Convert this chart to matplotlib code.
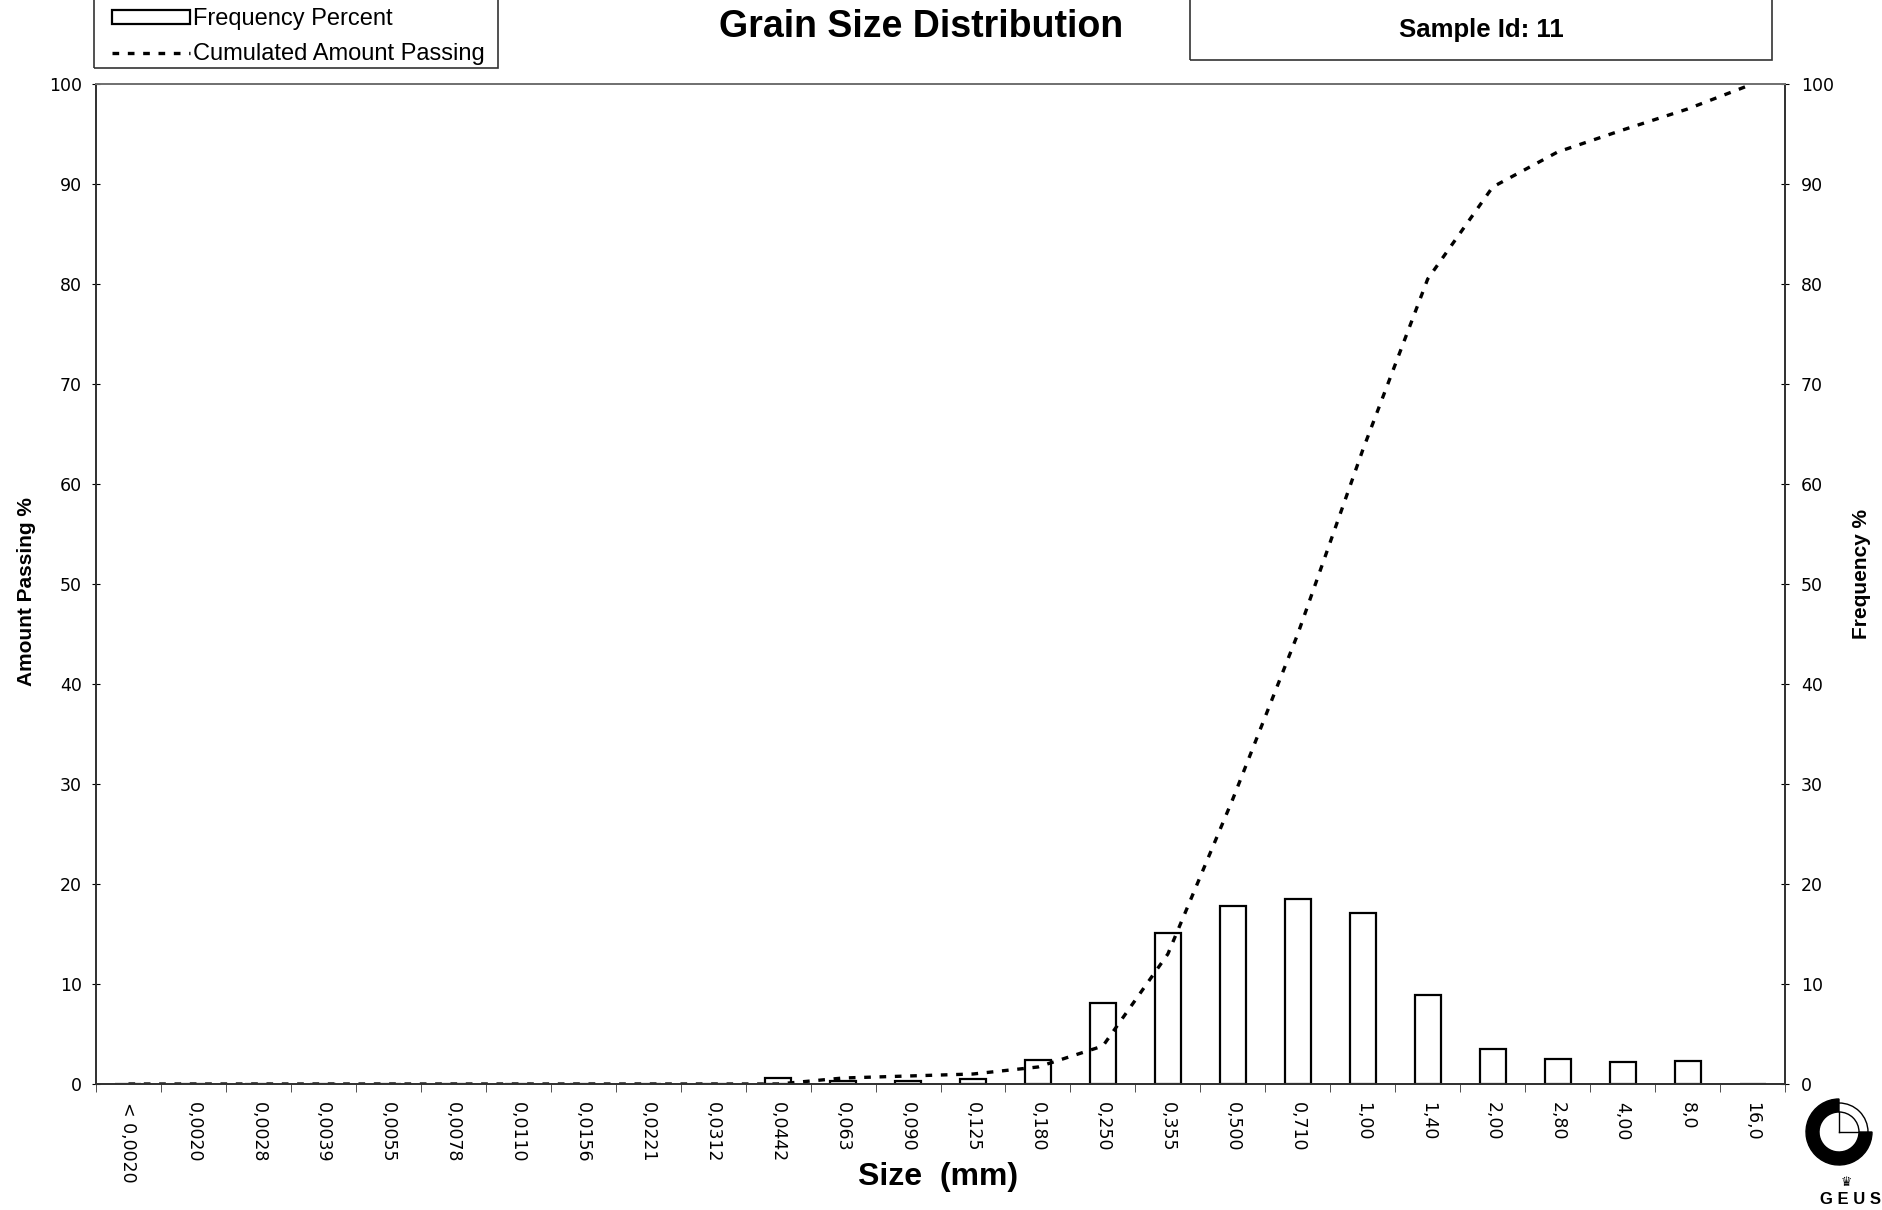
import matplotlib
matplotlib.use("Agg")
import matplotlib.pyplot as plt
import numpy as np
from matplotlib.patches import Rectangle, Wedge
from matplotlib.lines import Line2D

sizes = ["< 0,0020", "0,0020", "0,0028", "0,0039", "0,0055", "0,0078", "0,0110",
         "0,0156", "0,0221", "0,0312", "0,0442", "0,063", "0,090", "0,125",
         "0,180", "0,250", "0,355", "0,500", "0,710", "1,00", "1,40", "2,00",
         "2,80", "4,00", "8,0", "16,0"]
frequency = [0, 0, 0, 0, 0, 0, 0, 0, 0, 0, 0.6, 0.3, 0.3, 0.5, 2.4, 8.1, 15.1,
             17.8, 18.5, 17.1, 8.9, 3.5, 2.5, 2.2, 2.3, 0]
cumulated = [0, 0, 0, 0, 0, 0, 0, 0, 0, 0, 0, 0.6, 0.8, 1.0, 1.7, 3.8, 13.0,
             28.5, 45.0, 63.4, 80.5, 89.7, 93.2, 95.4, 97.5, 100.0]
sample_id = "11"

W, H = 1883, 1210
BOLD = ["Liberation Sans", "DejaVu Sans"]
dash = (0, (2.0, 2.6))

fig = plt.figure(figsize=(W / 100, H / 100), dpi=100)
ax = fig.add_axes([96 / W, 1 - 1084 / H, 1689 / W, 1000 / H])
ax2 = ax.twinx()

x = np.arange(len(sizes))
ax2.bar(x, frequency, width=0.4, color="white", edgecolor="black", linewidth=1.6)
ax.plot(x, cumulated, color="black", linewidth=2.4, linestyle=dash)
ax.set_zorder(ax2.get_zorder() + 1)
ax.patch.set_visible(False)

for a in (ax, ax2):
    a.set_xlim(-0.5, len(sizes) - 0.5)
    a.set_ylim(0, 100)
    a.set_yticks(np.arange(0, 101, 10))
    for s in a.spines.values():
        s.set_color("#333333")
        s.set_linewidth(1.3)
ax.spines["top"].set_color("#777777")

ax.set_xticks(x)
ax.set_xticklabels(sizes, rotation=270, ha="center", va="top", fontsize=12.5)
ax.set_xticks(np.arange(-0.5, len(sizes), 1.0), minor=True)
ax.tick_params(axis="x", which="major", length=0, pad=13)
ax.tick_params(axis="x", which="minor", length=5.5, direction="out", color="#333333")
ax.tick_params(axis="y", direction="inout", length=6, pad=7, labelsize=12.5)
ax2.tick_params(axis="y", direction="inout", length=6, pad=8.5, labelsize=12.5)

ax.set_ylabel("Amount Passing %", fontsize=15, fontweight="bold", family=BOLD)
ax.yaxis.set_label_coords(-0.0355, 0.492)
ax2.set_ylabel("Frequency %", fontsize=15, fontweight="bold", family=BOLD)
ax2.yaxis.set_label_coords(1.0397, 0.51)
ax.set_xlabel("Size  (mm)", fontsize=23, fontweight="bold", family=BOLD)
ax.xaxis.set_label_coords(0.4985, -0.078)

fig.text(921 / W, 1 - 27 / H, "Grain Size Distribution", fontsize=27,
         fontweight="bold", family=BOLD, ha="center", va="center")

# sample id box
fig.patches.append(Rectangle((1190 / W, 1 - 60 / H), 582 / W, 62 / H,
                             transform=fig.transFigure, fill=False,
                             edgecolor="#333333", linewidth=1.2))
fig.text(1481 / W, 1 - 30 / H, "Sample Id: " + sample_id, fontsize=18.5,
         fontweight="bold", family=BOLD, ha="center", va="center")

# legend
fig.patches.append(Rectangle((94 / W, 1 - 68 / H), 404 / W, 70 / H,
                             transform=fig.transFigure, fill=False,
                             edgecolor="#333333", linewidth=1.2))
handles = [Rectangle((0, 0), 1, 1, facecolor="white", edgecolor="black", linewidth=1.6),
           Line2D([], [], color="black", linewidth=2.4, linestyle=dash)]
fig.legend(handles, ["Frequency Percent", "Cumulated Amount Passing"],
           loc="upper left", bbox_to_anchor=(112 / W, 1 - 8 / H), frameon=False,
           borderpad=0, borderaxespad=0, labelspacing=0.57, handlelength=3.3,
           handleheight=0.55, handletextpad=0.15,
           prop={"family": BOLD, "size": 17})

# GEUS logo
lg = fig.add_axes([1799 / W, 1 - 1172 / H, 80 / W, 80 / H])
lg.set_xlim(-40, 40)
lg.set_ylim(-40, 40)
lg.set_aspect("equal")
lg.axis("off")
lg.add_patch(Wedge((0, 0), 33, 90, 360, width=13, facecolor="black", edgecolor="black"))
lg.add_patch(Wedge((0, 0), 29, 0, 90, width=9, facecolor="white", edgecolor="black", linewidth=1))
lg.plot([0, 0], [0, 20], color="black", linewidth=1)
lg.plot([0, 20], [0, 0], color="black", linewidth=1)
fig.text(1846 / W, 1 - 1183 / H, "\u265b", fontsize=9, ha="center", va="center")
fig.text(1851 / W, 1 - 1200 / H, "G E U S", fontsize=12, fontweight="bold",
         family=BOLD, ha="center", va="center")

fig.savefig("out.png", dpi=100)
